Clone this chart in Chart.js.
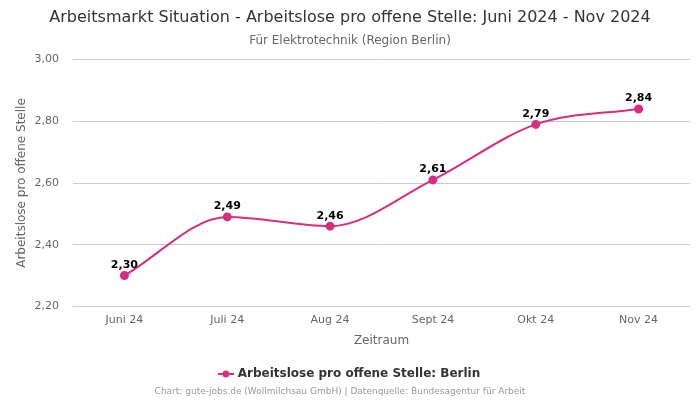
<!DOCTYPE html>
<html>
<head>
<meta charset="utf-8">
<script src="https://cdn.jsdelivr.net/npm/chart.js@4/dist/chart.umd.min.js"></script>
<style>
html,body{margin:0;padding:0;background:#fff;}
#wrap{width:700px;height:400px;}
</style>
</head>
<body>
<div id="wrap"><canvas id="c" width="700" height="400"></canvas></div>
<script>
const categories = ["Juni 24", "Juli 24", "Aug 24", "Sept 24", "Okt 24", "Nov 24"];
const values = [2.30, 2.49, 2.46, 2.61, 2.79, 2.84];
const yTicks = [2.20, 2.40, 2.60, 2.80, 3.00];
const seriesName = "Arbeitslose pro offene Stelle: Berlin";
const titleText = "Arbeitsmarkt Situation - Arbeitslose pro offene Stelle: Juni 2024 - Nov 2024";
const subtitleText = "Für Elektrotechnik (Region Berlin)";
const footerText = "Chart: gute-jobs.de (Wollmilchsau GmbH) | Datenquelle: Bundesagentur für Arbeit";

const COLOR = "#d62f7f";
const FONT = "'DejaVu Sans', sans-serif";
Chart.defaults.font.family = FONT;

function fmt(v){ return v.toFixed(2).replace('.', ','); }

const marker = document.createElement('canvas');
marker.width = 16; marker.height = 10;
(function(){
  const g = marker.getContext('2d');
  g.strokeStyle = COLOR; g.lineWidth = 2;
  g.beginPath(); g.moveTo(0,5); g.lineTo(16,5); g.stroke();
  g.fillStyle = COLOR; g.beginPath(); g.arc(8,5,3.5,0,Math.PI*2); g.fill();
})();

const labelPlugin = {
  id: 'valueLabels',
  afterDatasetsDraw(chart){
    const ctx = chart.ctx;
    const meta = chart.getDatasetMeta(0);
    ctx.save();
    ctx.font = "bold 11px " + FONT;
    ctx.fillStyle = "#000";
    ctx.textAlign = "center";
    ctx.textBaseline = "bottom";
    meta.data.forEach((pt, i) => {
      ctx.fillText(fmt(values[i]), pt.x, pt.y - 5);
    });
    ctx.restore();
  }
};

const footerPlugin = {
  id: 'footerText',
  afterDraw(chart){
    const ctx = chart.ctx;
    ctx.save();
    ctx.font = "9px " + FONT;
    ctx.fillStyle = "#999";
    ctx.textAlign = "center";
    ctx.textBaseline = "middle";
    ctx.fillText(footerText, 340, 392);
    ctx.restore();
  }
};

new Chart(document.getElementById('c'), {
  type: 'line',
  data: {
    labels: categories,
    datasets: [{
      label: seriesName,
      data: values,
      borderColor: COLOR,
      backgroundColor: COLOR,
      pointBackgroundColor: COLOR,
      pointBorderColor: COLOR,
      pointRadius: 3.5,
      borderWidth: 2,
      cubicInterpolationMode: 'monotone',
      fill: false
    }]
  },
  options: {
    responsive: false,
    animation: false,
    devicePixelRatio: 1,
    layout: { padding: { left: 10, right: 10, top: 0, bottom: 10 } },
    plugins: {
      title: {
        display: true, text: titleText, color: '#333',
        font: { size: 16, weight: 'normal', family: FONT },
        padding: { top: 8, bottom: 6 }
      },
      subtitle: {
        display: true, text: subtitleText, color: '#666',
        font: { size: 12, weight: 'normal', family: FONT },
        padding: { top: 0, bottom: 12 }
      },
      legend: {
        position: 'bottom',
        labels: {
          usePointStyle: true,
          pointStyle: marker,
          color: '#333',
          font: { size: 12, weight: 'bold', family: FONT },
          padding: 10
        }
      },
      tooltip: { enabled: false }
    },
    scales: {
      x: {
        offset: true,
        grid: { display: false, drawTicks: false },
        border: { display: false },
        ticks: { color: '#666', font: { size: 11 }, padding: 7 },
        title: { display: true, text: 'Zeitraum', color: '#666', font: { size: 12 }, padding: { top: 0, bottom: 10 } }
      },
      y: {
        min: 2.20, max: 3.00,
        afterBuildTicks(axis){ axis.ticks = yTicks.map(v => ({ value: v })); },
        afterFit(axis){ axis.width = 63; },
        grid: { color: '#ccc', drawTicks: false },
        border: { display: false },
        ticks: { color: '#666', font: { size: 11 }, padding: 14, callback: v => fmt(v) },
        title: { display: true, text: 'Arbeitslose pro offene Stelle', color: '#666', font: { size: 12 }, padding: { top: 5, bottom: 0 } }
      }
    }
  },
  plugins: [labelPlugin, footerPlugin]
});
</script>
</body>
</html>
